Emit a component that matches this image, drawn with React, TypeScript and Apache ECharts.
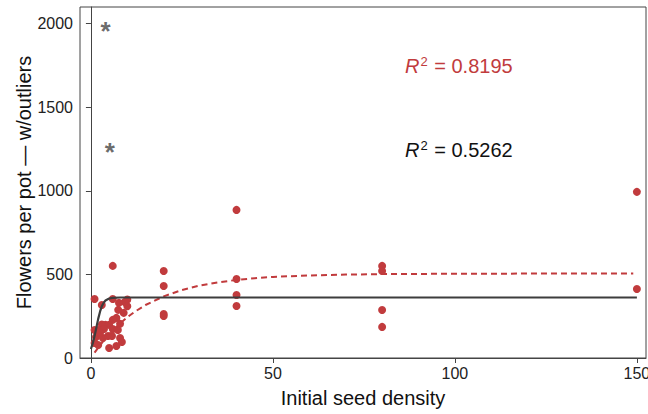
import React, { useEffect, useRef } from "react";
import * as echarts from "echarts";

// Observed points (initial seed density, flowers per pot)
const seedDensity = [
  1, 3, 6, 6, 10, 9.3, 9, 7.5, 7, 8, 6, 5, 4, 3, 2, 1, 1.4, 3.3, 4.7, 5.8, 8, 8.5, 7, 5, 2, 1, 3.6, 2.5, 6, 7.4, 10, 7.7,
  20, 20, 20, 20, 40, 40, 40, 40, 80, 80, 80, 80, 150, 150,
];
const flowers = [
  353, 317, 551, 353, 350, 335, 270, 288, 240, 205, 228, 198, 198, 200, 168, 168, 126, 120, 132, 132, 120, 96, 72, 60, 78, 90, 174, 150, 174, 168, 310, 330,
  521, 431, 263, 251, 886, 473, 377, 311, 551, 521, 287, 186, 994, 413,
];

// Outliers drawn as asterisks
const outlierDensity = [4, 5.2];
const outlierFlowers = [1995, 1270];

// Fitted curve (red dashed, without outliers)
const fitRedX = [1, 2, 4, 6, 8, 10, 12, 15, 20, 25, 30, 35, 40, 45, 50, 60, 70, 80, 100, 120, 149];
const fitRedY = [32, 62, 117, 165, 207, 244, 276, 317, 369, 407, 434, 453, 467, 477, 485, 494, 499, 502, 504, 505, 505];

// Fitted curve (black solid, with outliers)
const fitBlackX = [0, 0.5, 1, 1.5, 2, 2.5, 3, 3.5, 4, 5, 6, 8, 150];
const fitBlackY = [54, 87, 131, 183, 234, 277, 310, 331, 344, 356, 360, 362, 362];

const xTicks = [0, 50, 100, 150];
const yTicks = [0, 500, 1000, 1500, 2000];

const r2Red = "0.8195";
const r2Black = "0.5262";

const RED = "#c13b3d";
const DARK = "#3d3d3d";
const FONT = "Liberation Sans, Arial, sans-serif";

export default function App() {
  const ref = useRef<HTMLDivElement>(null);
  useEffect(() => {
    if (!ref.current) return;
    const chart = echarts.init(ref.current, null, { renderer: "svg" });
    const pts = seedDensity.map((x, i) => [x, flowers[i]]);
    const outs = outlierDensity.map((x, i) => [x, outlierFlowers[i]]);
    const red = fitRedX.map((x, i) => [x, fitRedY[i]]);
    const blk = fitBlackX.map((x, i) => [x, fitBlackY[i]]);
    const rich = (c: string) => ({
      r: { fontStyle: "italic", fontSize: 20, fill: c, fontFamily: FONT },
      s: { fontSize: 13, fill: c, fontFamily: FONT, verticalAlign: "top", padding: [0, 1, 9, 1] },
      n: { fontSize: 20, fill: c, fontFamily: FONT },
    });
    chart.setOption({
      animation: false,
      backgroundColor: "#ffffff",
      textStyle: { fontFamily: FONT },
      grid: {
        left: 80,
        top: 7,
        right: 2,
        bottom: 56,
        outerBoundsMode: "none",
        containLabel: false,
        show: true,
        borderColor: "#444",
        borderWidth: 1,
        backgroundColor: "transparent",
      },
      xAxis: {
        type: "value",
        min: -3,
        max: 152.5,
        name: "Initial seed density",
        nameLocation: "middle",
        nameGap: 30,
        nameMoveOverlap: false,
        nameTextStyle: { fontSize: 20, color: "#111", fontFamily: FONT },
        axisLine: { show: true, lineStyle: { color: "#444", width: 1 } },
        axisTick: { show: true, length: 5, inside: false, customValues: xTicks, lineStyle: { color: "#444" } },
        axisLabel: {
          customValues: xTicks,
          fontSize: 16,
          color: "#222",
          margin: 7,
          fontFamily: FONT,
          formatter: (v: number) => String(v),
        },
        splitLine: { show: false },
      },
      yAxis: {
        type: "value",
        min: 0,
        max: 2100,
        name: "Flowers per pot — w/outliers",
        nameLocation: "middle",
        nameGap: 46,
        nameMoveOverlap: false,
        nameTextStyle: { fontSize: 20, color: "#111", fontFamily: FONT },
        axisLine: { show: true, lineStyle: { color: "#444", width: 1 } },
        axisTick: { show: true, length: 5, inside: false, customValues: yTicks, lineStyle: { color: "#444" } },
        axisLabel: {
          customValues: yTicks,
          fontSize: 16,
          color: "#222",
          margin: 7,
          fontFamily: FONT,
          formatter: (v: number) => String(v),
        },
        splitLine: { show: false },
      },
      series: [
        {
          type: "scatter",
          data: pts,
          symbol: "circle",
          symbolSize: 8,
          itemStyle: { color: RED, opacity: 1 },
          z: 2,
        },
        {
          type: "scatter",
          data: outs,
          symbol: "circle",
          symbolSize: 1,
          itemStyle: { color: "rgba(0,0,0,0)" },
          label: {
            show: true,
            position: "inside",
            formatter: "*",
            fontSize: 26,
            fontWeight: "bold",
            color: "#444",
            fontFamily: FONT,
            offset: [0, 6],
          },
          z: 3,
        },
        {
          type: "line",
          data: red,
          showSymbol: false,
          smooth: false,
          lineStyle: { color: RED, width: 2, type: [6, 4] },
          z: 4,
        },
        {
          type: "line",
          data: blk,
          showSymbol: false,
          smooth: false,
          lineStyle: { color: DARK, width: 2.2 },
          z: 5,
        },
      ],
      graphic: [
        {
          type: "text",
          left: 405,
          top: 55,
          style: { text: "{r|R}{s|2}{n| = " + r2Red + "}", fill: RED, rich: rich(RED) },
        },
        {
          type: "text",
          left: 405,
          top: 139,
          style: { text: "{r|R}{s|2}{n| = " + r2Black + "}", fill: "#111", rich: rich("#111") },
        },
      ],
    });
    return () => chart.dispose();
  }, []);
  return <div ref={ref} style={{ width: 648, height: 414, position: "fixed", left: 0, top: 0 }} />;
}
